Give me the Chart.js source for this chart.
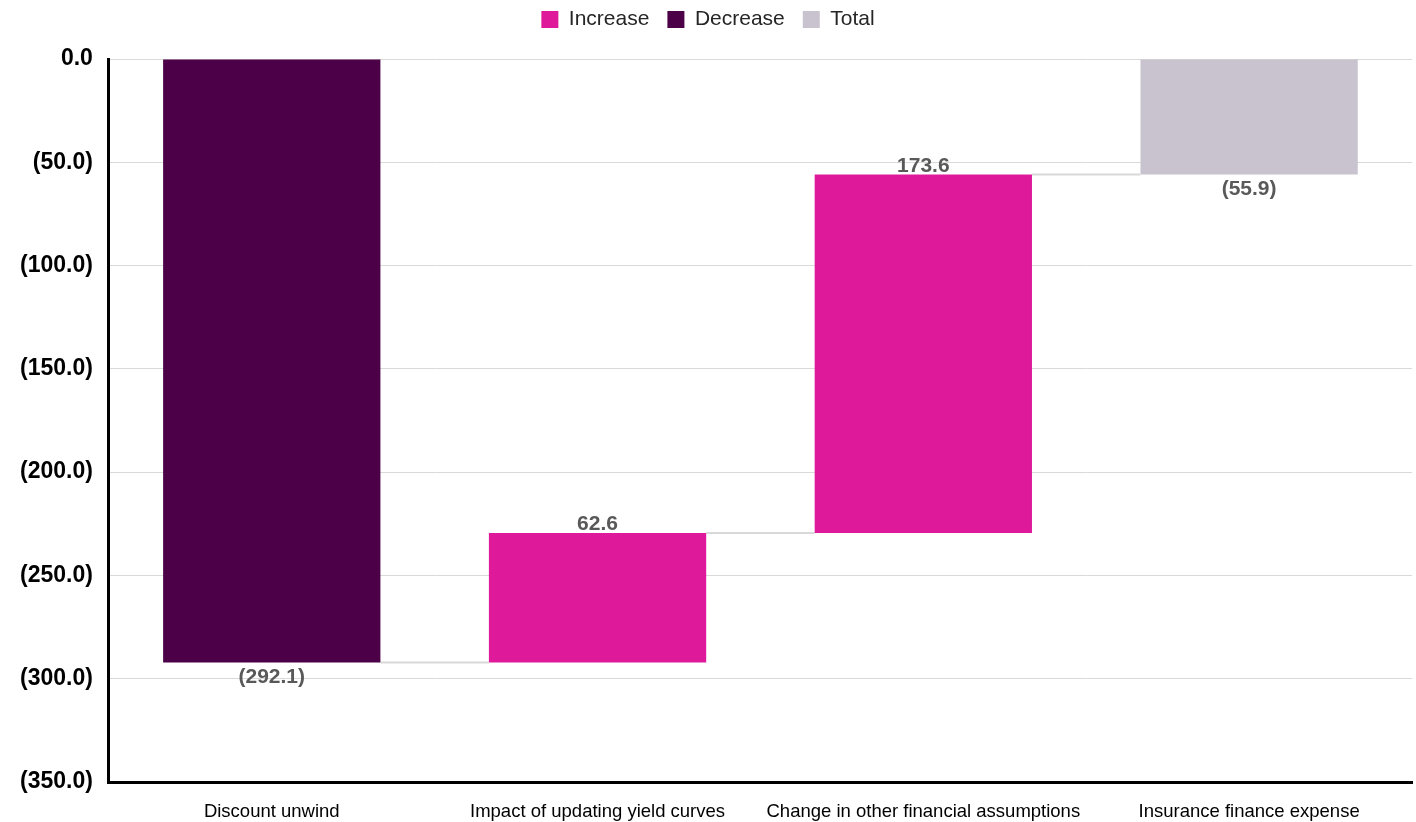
<!DOCTYPE html>
<html>
<head>
<meta charset="utf-8">
<script src="https://cdn.jsdelivr.net/npm/chart.js@4"></script>
<style>
  html, body { margin: 0; padding: 0; background: #fff; }
  #wrap { width: 1416px; height: 822px; }
</style>
</head>
<body>
<div id="wrap"><canvas id="myChart"></canvas></div>
<script>
const categories = ['Discount unwind', 'Impact of updating yield curves', 'Change in other financial assumptions', 'Insurance finance expense'];
// change of each step, the last one is the total
const changes = [-292.1, 62.6, 173.6, -55.9];
const kinds = ['Decrease', 'Increase', 'Increase', 'Total'];
const yTicks = [0, -50, -100, -150, -200, -250, -300, -350];

const colors = { Increase: '#DE1A9A', Decrease: '#4B0048', Total: '#C9C3CF' };
const FONT = '"Liberation Sans", Arial, sans-serif';

// running start / end of each floating bar
let run = 0;
let spans = [];
changes.forEach((v, i) => {
    if (kinds[i] == 'Total') {
        spans.push([0, v]);
    } else {
        spans.push([run, run + v]);
        run += v;
    }
});

function seriesFor(kind) {
    return spans.map((s, i) => kinds[i] == kind ? s : null);
}

function fmt(v) {
    let s = Math.abs(v).toFixed(1);
    return v < 0 ? '(' + s + ')' : s;
}

// extra room under the legend
const legendGap = {
    id: 'legendGap',
    beforeInit(chart) {
        const fit = chart.legend.fit;
        chart.legend.fit = function () {
            fit.bind(chart.legend)();
            this.height += 19;
        };
    }
};

// thin lines joining bars
const connectors = {
    id: 'connectors',
    beforeDatasetsDraw(chart) {
        const ctx = chart.ctx;
        const y = chart.scales.y;
        const bars = [];
        chart.data.datasets.forEach((ds, di) => {
            chart.getDatasetMeta(di).data.forEach((el, i) => {
                if (ds.data[i]) bars[i] = el;
            });
        });
        ctx.save();
        ctx.strokeStyle = '#D9D9D9';
        ctx.lineWidth = 2;
        for (let i = 0; i < bars.length - 1; i++) {
            const py = y.getPixelForValue(spans[i][1]);
            ctx.beginPath();
            ctx.moveTo(bars[i].x + bars[i].width / 2, py);
            ctx.lineTo(bars[i + 1].x - bars[i + 1].width / 2, py);
            ctx.stroke();
        }
        ctx.restore();
    }
};

const valueLabels = {
    id: 'valueLabels',
    afterDatasetsDraw(chart) {
        const ctx = chart.ctx;
        const y = chart.scales.y;
        ctx.save();
        ctx.font = 'bold 21px ' + FONT;
        ctx.fillStyle = '#595959';
        ctx.textAlign = 'center';
        chart.data.datasets.forEach((ds, di) => {
            chart.getDatasetMeta(di).data.forEach((el, i) => {
                if (!ds.data[i]) return;
                const v = changes[i];
                const lo = Math.min(spans[i][0], spans[i][1]);
                const hi = Math.max(spans[i][0], spans[i][1]);
                if (v > 0) {
                    ctx.textBaseline = 'bottom';
                    ctx.fillText(fmt(v), el.x, y.getPixelForValue(hi) + 2);
                } else {
                    ctx.textBaseline = 'top';
                    ctx.fillText(fmt(v), el.x, y.getPixelForValue(lo) + 4);
                }
            });
        });
        ctx.restore();
    }
};

new Chart(document.getElementById('myChart'), {
    type: 'bar',
    data: {
        labels: categories,
        datasets: ['Increase', 'Decrease', 'Total'].map(k => ({
            label: k,
            data: seriesFor(k),
            backgroundColor: colors[k],
            borderWidth: 0,
            categoryPercentage: 0.667,
            barPercentage: 1.0
        }))
    },
    options: {
        responsive: true,
        maintainAspectRatio: false,
        animation: false,
        layout: { padding: { left: 4, right: 4, top: -9, bottom: 0 } },
        plugins: {
            legend: {
                position: 'top',
                labels: {
                    boxWidth: 17,
                    boxHeight: 17,
                    padding: 18,
                    color: '#262626',
                    font: { family: FONT, size: 21 }
                }
            },
            tooltip: { enabled: false }
        },
        scales: {
            x: {
                stacked: true,
                grid: { display: false, drawTicks: false },
                border: { color: '#000', width: 3 },
                afterFit: s => { s.height = 40; },
                ticks: {
                    color: '#000',
                    padding: 19,
                    maxRotation: 0,
                    font: { family: FONT, size: 18.5 }
                }
            },
            y: {
                min: -350,
                max: 0,
                afterBuildTicks: axis => { axis.ticks = yTicks.map(v => ({ value: v })); },
                grid: { color: '#D9D9D9', lineWidth: 1, drawTicks: false },
                border: { color: '#000', width: 3 },
                ticks: {
                    color: '#000',
                    padding: 16,
                    font: { family: FONT, size: 23, weight: 'bold' },
                    callback: v => fmt(v)
                }
            }
        }
    },
    plugins: [legendGap, connectors, valueLabels]
});
</script>
</body>
</html>
